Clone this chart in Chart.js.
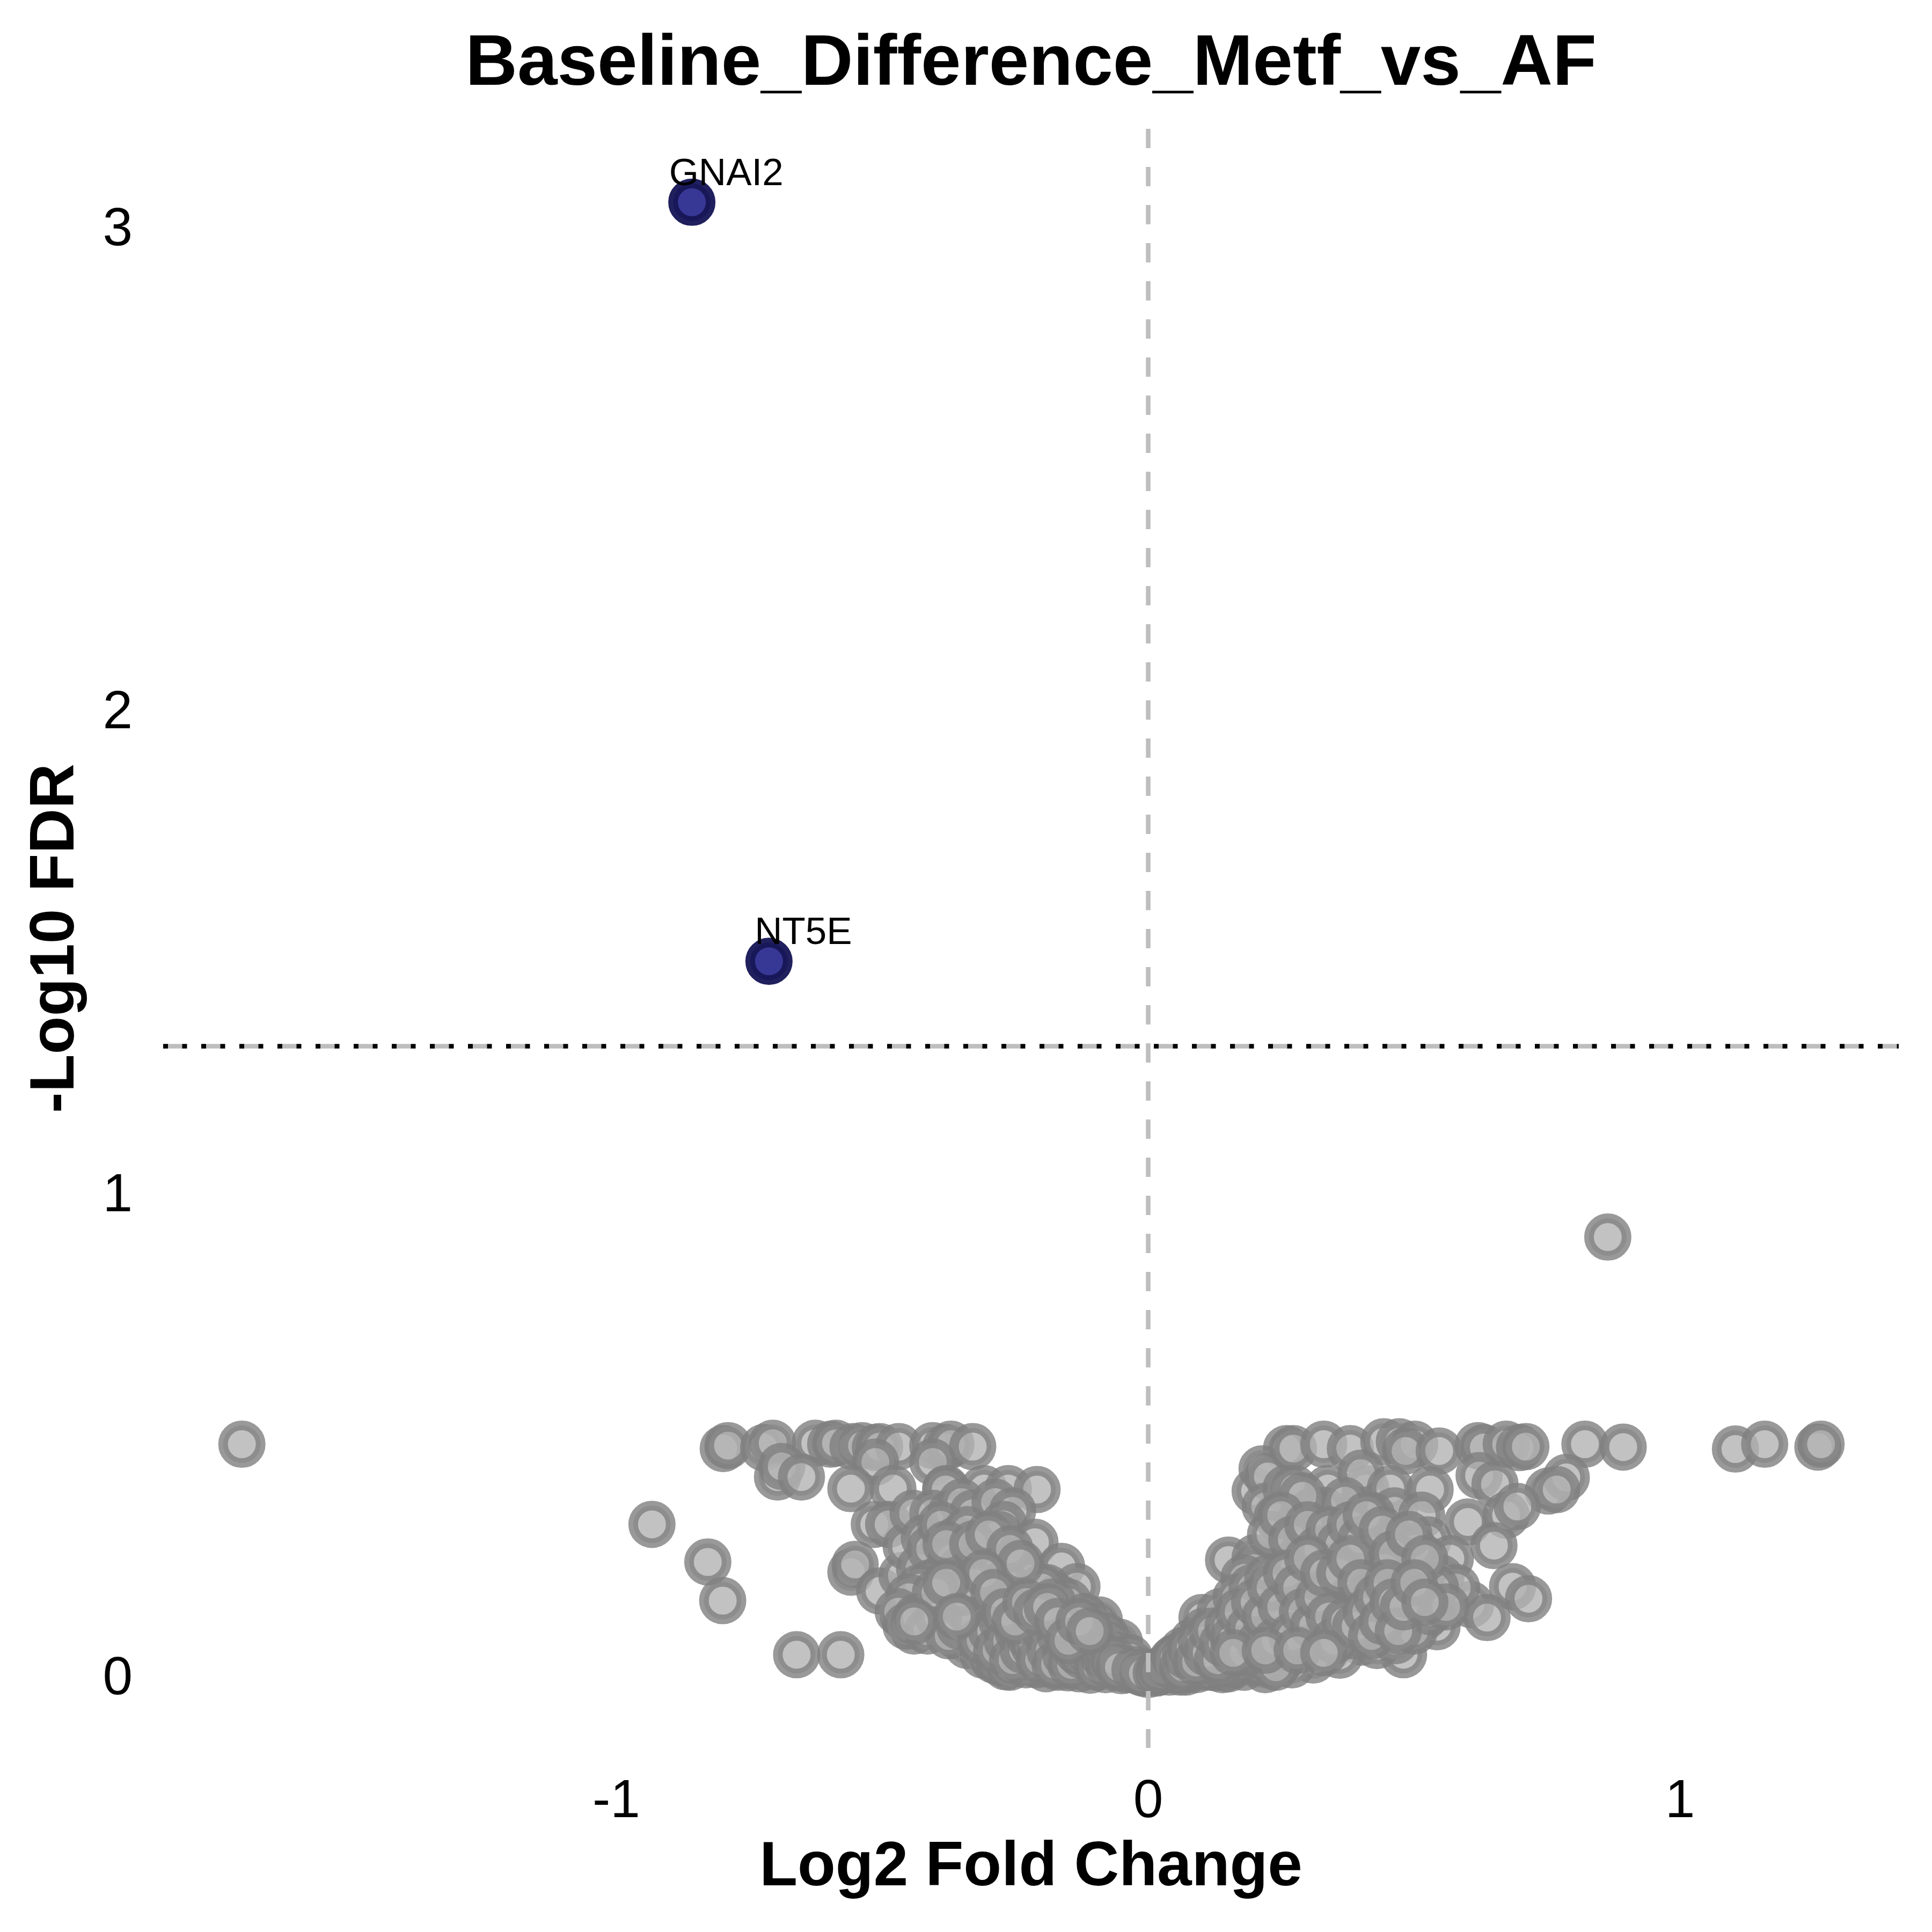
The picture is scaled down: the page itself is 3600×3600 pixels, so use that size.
<!DOCTYPE html>
<html>
<head>
<meta charset="utf-8">
<script src="https://cdn.jsdelivr.net/npm/chart.js@4.4.1/dist/chart.umd.min.js"></script>
<style>
  html, body { margin: 0; padding: 0; background: #ffffff; }
  #wrap { width: 3600px; height: 3600px; }
</style>
</head>
<body>
<div id="wrap"><canvas id="volcano" width="3600" height="3600"></canvas></div>
<script>

// not significant genes: log2 fold change / -log10 FDR
const nsLogFC = [
    -1.704, -0.933, -0.828, -0.800, -0.661, -0.578,
    -0.799, -0.790, -0.723, -0.706, -0.626, -0.597, -0.587, -0.555, -0.538, -0.513, -0.505, -0.469, -0.405, -0.381, -0.371, -0.330,
    -0.697, -0.689, -0.652, -0.513, -0.405, -0.559, -0.480, -0.380, -0.381, -0.309, -0.263, -0.209,
    -0.515, -0.488, -0.559, -0.551, -0.505, -0.463, -0.455, -0.442, -0.405, -0.421, -0.388, -0.400, -0.396, -0.421,
    -0.438, -0.420, -0.405, -0.371, -0.350, -0.380, -0.455, -0.447, -0.371, -0.346, -0.363, -0.351, -0.330, -0.288,
    -0.255, -0.272, -0.289, -0.213, -0.381, -0.163, -0.134, -0.247, -0.322, -0.381, -0.092, -0.054, -0.322, -0.268,
    -0.192, -0.151, -0.109, 0.000,
    -0.36, -0.34, -0.33, -0.31, -0.30, -0.29, -0.28, -0.27, -0.26, -0.25, -0.24, -0.23, -0.22, -0.21, -0.20, -0.19,
    -0.18, -0.17, -0.16, -0.15, -0.14, -0.13, -0.12, -0.11, -0.10, -0.09, -0.08, -0.07, -0.06, -0.05, -0.04, -0.03,
    -0.02, -0.35, -0.32, -0.30, -0.27, -0.24, -0.21, -0.37, -0.42, -0.44, -0.46, -0.43, -0.41, -0.39, -0.36, -0.34,
    -0.31, -0.28, -0.26, -0.23, -0.19, -0.17, -0.15, -0.12, -0.10, -0.08,
    -0.44, -0.42, -0.40, -0.38, -0.36, -0.34, -0.33, -0.31, -0.29, -0.28, -0.26, -0.25, -0.23, -0.22, -0.20, -0.19,
    -0.18, -0.17, -0.16, -0.14, -0.13, -0.11, -0.10, -0.09, -0.07, -0.06, -0.045, -0.035, -0.015, -0.39, -0.37, -0.35,
    -0.32, -0.30, -0.27, -0.25, -0.22, -0.20, -0.18, -0.41, -0.43, -0.45, -0.47, -0.38, -0.33, -0.30, -0.26, -0.24,
    -0.28, -0.26, -0.23, -0.17, -0.13, -0.08, -0.05,
    -0.455, -0.435, -0.415, -0.395, -0.375, -0.355, -0.345, -0.325, -0.315, -0.295, -0.285, -0.275, -0.265, -0.255, -0.245, -0.235,
    -0.225, -0.215, -0.205, -0.195, -0.185, -0.175, -0.165, -0.155, -0.145, -0.135, -0.125, -0.115, -0.105, -0.095, -0.085, -0.075,
    -0.065, -0.055, -0.025, -0.01, -0.35, -0.33, -0.31, -0.29, -0.27, -0.25, -0.23, -0.21, -0.19, -0.17, -0.15, -0.13,
    -0.11, -0.40, -0.38, -0.36, -0.44,
    0.071, 0.126, 0.151, 0.230, 0.101, 0.151, 0.201, 0.243, 0.260, 0.214, 0.225, 0.220, 0.201, 0.234, 0.226, 0.172,
    0.273, 0.330, 0.380, 0.443, 0.472, 0.501, 0.484, 0.547, 0.620, 0.631, 0.673, 0.698, 0.710, 0.821, 0.893, 1.104,
    1.159, 1.259, 1.265,
    0.259, 0.275, 0.338, 0.409, 0.400, 0.455, 0.530, 0.622, 0.652, 0.752, 0.786, 0.768,
    0.242, 0.309, 0.463, 0.514, 0.601, 0.673, 0.694, 0.526, 0.650, 0.443, 0.568, 0.380, 0.395, 0.505, 0.685, 0.715,
    0.606, 0.637, 0.543, 0.401, 0.480, 0.338, 0.229, 0.296, 0.246, 0.864,
    0.03, 0.05, 0.06, 0.08, 0.09, 0.10, 0.11, 0.12, 0.13, 0.14, 0.15, 0.16, 0.17, 0.18, 0.19, 0.20,
    0.21, 0.22, 0.23, 0.24, 0.25, 0.26, 0.27, 0.28, 0.29, 0.30, 0.31, 0.32, 0.33, 0.34, 0.35, 0.36,
    0.37, 0.38, 0.39, 0.41, 0.42, 0.44, 0.46, 0.47, 0.49, 0.52, 0.20, 0.18, 0.26, 0.31, 0.35, 0.39,
    0.28, 0.42, 0.45, 0.33, 0.37, 0.29, 0.48, 0.55, 0.58, 0.50, 0.43, 0.36, 0.31, 0.27, 0.22, 0.18,
    0.14, 0.09, 0.04, 0.02, 0.07, 0.12, 0.16, 0.20, 0.25,
    0.015, 0.035, 0.045, 0.055, 0.065, 0.075, 0.085, 0.095, 0.105, 0.115, 0.125, 0.135, 0.145, 0.155, 0.165, 0.175,
    0.185, 0.195, 0.205, 0.215, 0.225, 0.235, 0.245, 0.255, 0.265, 0.275, 0.285, 0.295, 0.305, 0.315, 0.325, 0.335,
    0.345, 0.355, 0.365, 0.375, 0.385, 0.395, 0.405, 0.415, 0.425, 0.435, 0.445, 0.455, 0.465, 0.475, 0.485, 0.50,
    0.51, 0.53, 0.54, 0.56, 0.23, 0.25, 0.27, 0.30, 0.32, 0.34, 0.36, 0.38, 0.40, 0.41, 0.44, 0.46,
    0.49, 0.52, 0.21, 0.24, 0.17, 0.11, 0.06, 0.135,
    0.025, 0.04, 0.05, 0.065, 0.07, 0.08, 0.09, 0.10, 0.11, 0.12, 0.13, 0.14, 0.15, 0.16, 0.17, 0.18,
    0.19, 0.20, 0.21, 0.22, 0.23, 0.24, 0.25, 0.26, 0.27, 0.28, 0.29, 0.30, 0.31, 0.32, 0.33, 0.34,
    0.35, 0.36, 0.37, 0.38, 0.39, 0.40, 0.41, 0.42, 0.43, 0.44, 0.45, 0.46, 0.47, 0.48, 0.50, 0.52,
    0.16, 0.22, 0.28, 0.33
];
const nsNegLogFDR = [
    0.477, 0.311, 0.233, 0.153, 0.041, 0.041,
    0.468, 0.474, 0.470, 0.479, 0.479, 0.477, 0.479, 0.472, 0.474, 0.470, 0.472, 0.472, 0.474, 0.470, 0.477, 0.472,
    0.409, 0.431, 0.409, 0.440, 0.440, 0.385, 0.385, 0.385, 0.383, 0.385, 0.385, 0.383,
    0.311, 0.311, 0.212, 0.228, 0.173, 0.205, 0.265, 0.334, 0.334, 0.283, 0.288, 0.233, 0.182, 0.182,
    0.104, 0.118, 0.104, 0.104, 0.090, 0.150, 0.118, 0.113, 0.334, 0.302, 0.233, 0.357, 0.334, 0.357,
    0.339, 0.311, 0.265, 0.274, 0.265, 0.224, 0.182, 0.233, 0.205, 0.191, 0.113, 0.067, 0.081, 0.016,
    0.012, 0.014, 0.009, 0.000,
    0.20, 0.17, 0.24, 0.15, 0.19, 0.12, 0.22, 0.16, 0.10, 0.19, 0.13, 0.07, 0.17, 0.11, 0.14, 0.06,
    0.09, 0.13, 0.05, 0.10, 0.07, 0.03, 0.08, 0.05, 0.03, 0.06, 0.02, 0.04, 0.02, 0.03, 0.01, 0.02,
    0.01, 0.12, 0.09, 0.06, 0.05, 0.03, 0.02, 0.15, 0.16, 0.14, 0.12, 0.22, 0.26, 0.31, 0.28, 0.30,
    0.27, 0.29, 0.21, 0.20, 0.18, 0.16, 0.15, 0.12, 0.10, 0.08,
    0.09, 0.11, 0.13, 0.10, 0.08, 0.06, 0.13, 0.04, 0.03, 0.08, 0.13, 0.06, 0.10, 0.04, 0.08, 0.11,
    0.03, 0.07, 0.10, 0.04, 0.08, 0.02, 0.06, 0.02, 0.06, 0.04, 0.02, 0.035, 0.005, 0.20, 0.24, 0.22,
    0.20, 0.23, 0.19, 0.15, 0.14, 0.18, 0.15, 0.19, 0.18, 0.16, 0.13, 0.27, 0.27, 0.29, 0.26, 0.23,
    0.025, 0.015, 0.02, 0.015, 0.012, 0.01, 0.008,
    0.10, 0.12, 0.09, 0.12, 0.08, 0.10, 0.14, 0.11, 0.07, 0.09, 0.05, 0.11, 0.07, 0.03, 0.09, 0.05,
    0.08, 0.06, 0.03, 0.09, 0.05, 0.02, 0.08, 0.04, 0.02, 0.05, 0.04, 0.07, 0.04, 0.015, 0.04, 0.02,
    0.03, 0.015, 0.01, 0.003, 0.17, 0.19, 0.21, 0.17, 0.13, 0.11, 0.15, 0.13, 0.14, 0.11, 0.07, 0.11,
    0.09, 0.17, 0.19, 0.12, 0.11,
    0.005, 0.014, 0.012, 0.035, 0.118, 0.237, 0.380, 0.330, 0.468, 0.426, 0.410, 0.348, 0.242, 0.219, 0.173, 0.150,
    0.468, 0.477, 0.468, 0.482, 0.482, 0.477, 0.463, 0.463, 0.474, 0.470, 0.477, 0.470, 0.472, 0.477, 0.471, 0.467,
    0.477, 0.471, 0.477,
    0.385, 0.385, 0.385, 0.385, 0.417, 0.385, 0.383, 0.412, 0.394, 0.380, 0.408, 0.383,
    0.325, 0.339, 0.339, 0.330, 0.316, 0.330, 0.348, 0.279, 0.267, 0.260, 0.240, 0.219, 0.219, 0.173, 0.182, 0.157,
    0.145, 0.118, 0.099, 0.067, 0.041, 0.053, 0.025, 0.256, 0.228, 0.906,
    0.01, 0.02, 0.04, 0.03, 0.06, 0.02, 0.08, 0.05, 0.10, 0.03, 0.07, 0.12, 0.05, 0.09, 0.14, 0.04,
    0.11, 0.17, 0.08, 0.13, 0.19, 0.06, 0.10, 0.15, 0.21, 0.08, 0.13, 0.18, 0.11, 0.23, 0.15, 0.09,
    0.19, 0.13, 0.16, 0.11, 0.20, 0.14, 0.10, 0.17, 0.13, 0.12, 0.22, 0.20, 0.25, 0.27, 0.30, 0.29,
    0.31, 0.33, 0.28, 0.34, 0.36, 0.37, 0.22, 0.20, 0.18, 0.26, 0.06, 0.04, 0.03, 0.02, 0.01, 0.015,
    0.01, 0.01, 0.005, 0.005, 0.01, 0.02, 0.02, 0.025, 0.03,
    0.003, 0.015, 0.03, 0.01, 0.05, 0.025, 0.07, 0.04, 0.09, 0.03, 0.06, 0.13, 0.09, 0.04, 0.16, 0.11,
    0.06, 0.18, 0.13, 0.08, 0.20, 0.15, 0.10, 0.05, 0.17, 0.22, 0.12, 0.07, 0.18, 0.22, 0.14, 0.08,
    0.19, 0.25, 0.12, 0.17, 0.08, 0.22, 0.15, 0.25, 0.10, 0.18, 0.22, 0.14, 0.07, 0.12, 0.19, 0.09,
    0.16, 0.13, 0.18, 0.14, 0.29, 0.33, 0.28, 0.31, 0.26, 0.30, 0.27, 0.31, 0.28, 0.33, 0.30, 0.25,
    0.29, 0.24, 0.025, 0.015, 0.03, 0.015, 0.005, 0.02,
    0.01, 0.02, 0.035, 0.015, 0.04, 0.055, 0.025, 0.07, 0.045, 0.09, 0.03, 0.065, 0.10, 0.075, 0.13, 0.045,
    0.095, 0.15, 0.065, 0.12, 0.18, 0.07, 0.14, 0.21, 0.08, 0.18, 0.13, 0.24, 0.10, 0.16, 0.21, 0.12,
    0.07, 0.21, 0.11, 0.24, 0.10, 0.19, 0.13, 0.08, 0.16, 0.11, 0.19, 0.15, 0.09, 0.14, 0.19, 0.15,
    0.045, 0.05, 0.05, 0.045
];

// significant genes
const sigGenes = ['GNAI2', 'NT5E'];
const sigLogFC = [-0.858, -0.713];
const sigNegLogFDR = [3.049, 1.477];

const xTicks = [-1, 0, 1];
const yTicks = [0, 1, 2, 3];
const fdrCutoff = -Math.log10(0.05);

Chart.defaults.font.family = "'Liberation Sans', Arial, sans-serif";
Chart.defaults.color = '#000000';

// dashed reference lines, drawn over the points like ggplot does
const refLines = {
    id: 'refLines',
    afterDatasetsDraw(chart) {
        const { ctx, chartArea: a, scales: { x, y } } = chart;
        const px = x.getPixelForValue(0);
        const py = y.getPixelForValue(fdrCutoff);
        ctx.save();
        ctx.lineCap = 'butt';
        ctx.lineWidth = 8.5;
        ctx.strokeStyle = '#bebebe';
        ctx.setLineDash([36, 35]);
        ctx.beginPath(); ctx.moveTo(px, a.top); ctx.lineTo(px, a.bottom); ctx.stroke();
        ctx.beginPath(); ctx.moveTo(a.left, py); ctx.lineTo(a.right, py); ctx.stroke();
        ctx.strokeStyle = '#000000';
        ctx.setLineDash([9, 26.5]);
        ctx.beginPath(); ctx.moveTo(a.left, py); ctx.lineTo(a.right, py); ctx.stroke();
        ctx.restore();
    }
};

// gene labels + plot title
const textLayer = {
    id: 'textLayer',
    afterDatasetsDraw(chart) {
        const { ctx, chartArea: a, scales: { x, y } } = chart;
        ctx.save();
        ctx.fillStyle = '#000000';
        ctx.textAlign = 'center';
        ctx.textBaseline = 'alphabetic';
        ctx.font = "71px 'Liberation Sans', Arial, sans-serif";
        sigGenes.forEach((g, i) => {
            ctx.fillText(g, x.getPixelForValue(sigLogFC[i]) + 64, y.getPixelForValue(sigNegLogFDR[i]) - 32);
        });
        ctx.font = "bold 134px 'Liberation Sans', Arial, sans-serif";
        ctx.fillText('Baseline_Difference_Metf_vs_AF', (a.left + a.right) / 2, 158);
        ctx.restore();
    }
};

const ctx = document.getElementById('volcano').getContext('2d');

const volcano = new Chart(ctx, {
    type: 'scatter',
    data: {
        datasets: [{
            label: 'NS',
            data: nsLogFC.map((v, i) => ({ x: v, y: nsNegLogFDR[i] })),
            backgroundColor: 'rgba(179, 179, 179, 0.8)',
            borderColor: 'rgba(127, 127, 127, 0.8)',
            pointRadius: 35,
            pointBorderWidth: 18
        }, {
            label: 'Significant',
            data: sigLogFC.map((v, i) => ({ x: v, y: sigNegLogFDR[i] })),
            backgroundColor: 'rgba(47, 47, 145, 0.96)',
            borderColor: 'rgba(23, 23, 87, 0.96)',
            pointRadius: 35,
            pointBorderWidth: 18
        }]
    },
    options: {
        responsive: false,
        animation: false,
        events: [],
        devicePixelRatio: 1,
        layout: { padding: { top: 240, right: 62, left: 0, bottom: 0 } },
        plugins: {
            legend: { display: false },
            title: { display: false },
            tooltip: { enabled: false }
        },
        scales: {
            x: {
                type: 'linear',
                min: -1.852,
                max: 1.411,
                afterBuildTicks: (s) => { s.ticks = xTicks.map(v => ({ value: v })); },
                afterFit: (s) => { s.height = 343; },
                grid: { display: false, drawTicks: false },
                border: { display: false },
                ticks: {
                    font: { size: 100 },
                    color: '#000000',
                    padding: 41,
                    maxRotation: 0,
                    autoSkip: false,
                    callback: (v) => String(v)
                },
                title: {
                    display: true,
                    text: 'Log2 Fold Change',
                    font: { size: 116, weight: 'bold' },
                    color: '#000000',
                    padding: { top: 0, bottom: 49 }
                }
            },
            y: {
                type: 'linear',
                min: -0.152,
                max: 3.201,
                afterBuildTicks: (s) => { s.ticks = yTicks.map(v => ({ value: v })); },
                afterFit: (s) => { s.width = 304; },
                grid: { display: false, drawTicks: false },
                border: { display: false },
                ticks: {
                    font: { size: 100 },
                    color: '#000000',
                    padding: 57,
                    labelOffset: 9,
                    autoSkip: false,
                    callback: (v) => String(v)
                },
                title: {
                    display: true,
                    text: '-Log10 FDR',
                    font: { size: 116, weight: 'bold' },
                    color: '#000000',
                    padding: { top: 35, bottom: 0 }
                }
            }
        }
    },
    plugins: [refLines, textLayer]
});

</script>
</body>
</html>
